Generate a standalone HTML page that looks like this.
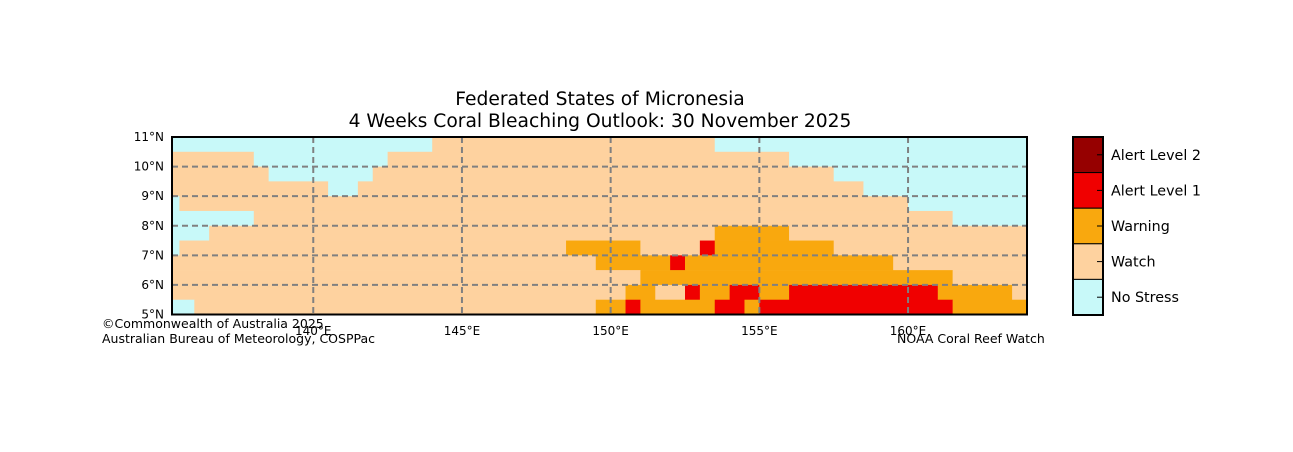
<!DOCTYPE html>
<html><head><meta charset="utf-8"><style>
body{margin:0;background:#fff;}
svg text{font-family:"DejaVu Sans","Liberation Sans",sans-serif;}
</style></head><body>
<svg id="chart" width="1293" height="447" xmlns="http://www.w3.org/2000/svg">
<g id="cells"></g>
<g id="grid"></g>
<rect x="172" y="137" width="855" height="177.5" fill="none" stroke="#000" stroke-width="2"/>
<text x="600" y="105" font-size="18.7" text-anchor="middle">Federated States of Micronesia</text>
<text x="600" y="127" font-size="18.7" text-anchor="middle">4 Weeks Coral Bleaching Outlook: 30 November 2025</text>
<g id="ticks"></g>
<text x="102" y="328" font-size="12.5">©Commonwealth of Australia 2025</text>
<text x="102" y="343" font-size="12.5">Australian Bureau of Meteorology, COSPPac</text>
<text x="897" y="343" font-size="12.5">NOAA Coral Reef Watch</text>
<g id="cbar"></g>
</svg>
<script>
const categories=["No Stress","Watch","Warning","Alert Level 1","Alert Level 2"];
const colors=["#c8f9f9","#fed29f","#f9a80e","#f00000","#960000"];
const lonTicks=[140,145,150,155,160];
const latTicks=[5,6,7,8,9,10,11];
// rows: [latTop, [[lonStart, lonEnd, category]...]]
const rowsLat=[11,10.5,10,9.5,9,8.5,8,7.5,7,6.5,6,5.5];
const rowRuns=[
[[135,144,0],[144,153.5,1],[153.5,164,0]],
[[135,138,1],[138,142.5,0],[142.5,156,1],[156,164,0]],
[[135,138.5,1],[138.5,142,0],[142,157.5,1],[157.5,164,0]],
[[135,140.5,1],[140.5,141.5,0],[141.5,158.5,1],[158.5,164,0]],
[[135,135.5,0],[135.5,160,1],[160,164,0]],
[[135,138,0],[138,161.5,1],[161.5,164,0]],
[[135,136.5,0],[136.5,153.5,1],[153.5,156,2],[156,164,1]],
[[135,135.5,0],[135.5,148.5,1],[148.5,151,2],[151,153,1],[153,153.5,3],[153.5,157.5,2],[157.5,164,1]],
[[135,149.5,1],[149.5,152,2],[152,152.5,3],[152.5,159.5,2],[159.5,164,1]],
[[135,151,1],[151,161.5,2],[161.5,164,1]],
[[135,150.5,1],[150.5,151.5,2],[151.5,152.5,1],[152.5,153,3],[153,154,2],[154,155,3],[155,156,2],[156,161,3],[161,163.5,2],[163.5,164,1]],
[[135,136,0],[136,149.5,1],[149.5,150.5,2],[150.5,151,3],[151,153.5,2],[153.5,154.5,3],[154.5,155,2],[155,161.5,3],[161.5,164,2]]
];
const NS="http://www.w3.org/2000/svg";
const X0=172,X1=1027,Y0=137,Y1=314.5,LON0=135.25,LON1=164,LAT0=5,LAT1=11;
const xs=l=>X0+(l-LON0)/(LON1-LON0)*(X1-X0);
const ys=l=>Y1-(l-LAT0)/(LAT1-LAT0)*(Y1-Y0);
function mk(tag,a,p){const e=document.createElementNS(NS,tag);for(const k in a)e.setAttribute(k,a[k]);p.appendChild(e);return e;}
const cg=document.getElementById('cells');
rowRuns.forEach((runs,i)=>{const top=rowsLat[i];runs.forEach(r=>{
 const a=Math.max(r[0],LON0),b=Math.min(r[1],LON1);
 const el=mk('rect',{x:xs(a),y:ys(top),width:xs(b)-xs(a)+0.3,height:ys(top-0.5)-ys(top)+0.3,fill:colors[r[2]]},cg);
 
 
});});
const gg=document.getElementById('grid');
const tg=document.getElementById('ticks');
lonTicks.forEach(l=>{
 const el=mk('line',{x1:xs(l),x2:xs(l),y1:Y0,y2:Y1,stroke:'#808080','stroke-width':2,'stroke-dasharray':'6,4'},gg);
 
 
 const t=mk('text',{x:xs(l),y:335,'font-size':12,'text-anchor':'middle'},tg);t.textContent=l+'°E';
 
 
});
latTicks.forEach(l=>{
 if(l>LAT0&&l<LAT1){const el=mk('line',{x1:X0,x2:X1,y1:ys(l),y2:ys(l),stroke:'#808080','stroke-width':2,'stroke-dasharray':'6,4'},gg);
 
 }
 const t=mk('text',{x:164,y:ys(l)+4,'font-size':12,'text-anchor':'end'},tg);t.textContent=l+'°N';
 
 
});
const cb=document.getElementById('cbar');
const CX=1073,CW=30,CT=137,CH=178,seg=CH/categories.length;
for(let i=0;i<categories.length;i++){
 const k=categories.length-1-i;
 const y=CT+i*seg;
 const r=mk('rect',{x:CX,y:y,width:CW,height:seg,fill:colors[k],stroke:'#000','stroke-width':1},cb);
 
 
 mk('line',{x1:CX+CW-6,x2:CX+CW,y1:y+seg/2,y2:y+seg/2,stroke:'#000','stroke-width':1},cb);
 const t=mk('text',{x:1111,y:y+seg/2+5,'font-size':14.3},cb);t.textContent=categories[k];
 
 
}
const f=mk('rect',{x:CX,y:CT,width:CW,height:CH,fill:'none',stroke:'#000','stroke-width':2},cb);


</script>
</body></html>
